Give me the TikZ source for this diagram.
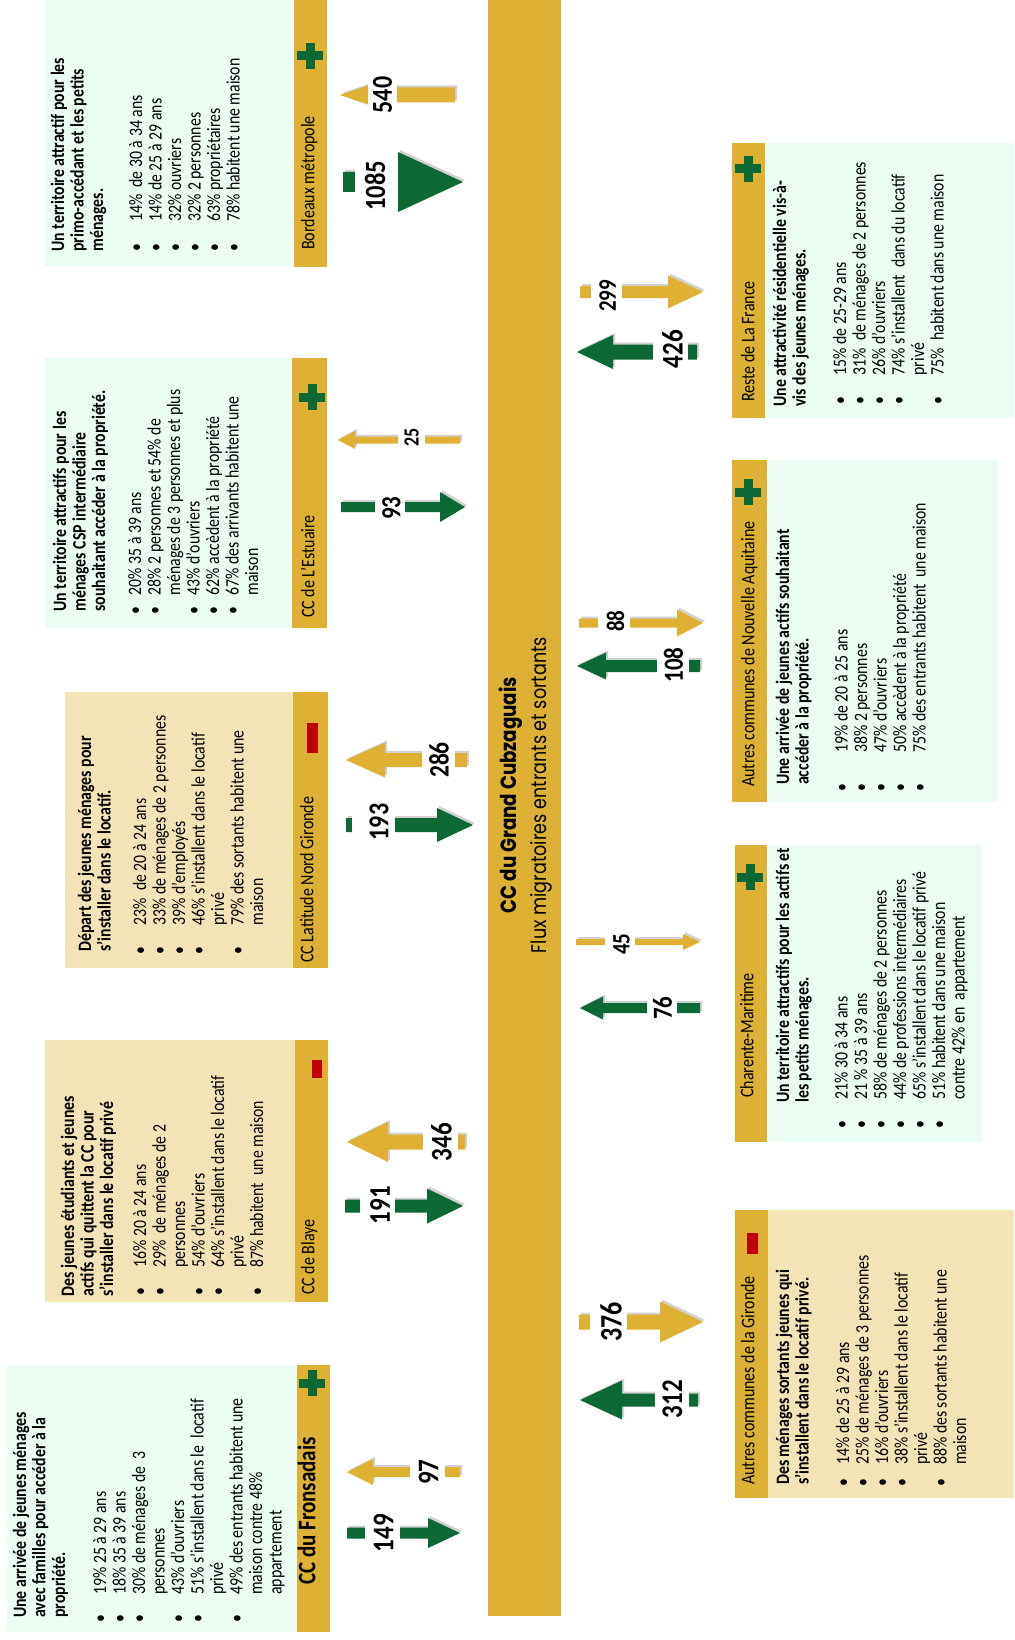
\documentclass[tikz,border=0pt]{standalone}
\usepackage{fontspec}
\setmainfont{Carlito}
\newfontfamily\poppins{Poppins}
\usetikzlibrary{shadows}
\definecolor{gold}{RGB}{222,176,52}
\definecolor{dgreen}{RGB}{12,104,52}
\definecolor{lgreen}{RGB}{235,252,242}
\definecolor{beige}{RGB}{243,228,181}
\definecolor{mred}{RGB}{192,0,0}

\newcommand\bodytext[1]{\scalebox{1}[1.2]{\parbox[t]{400pt}{\raggedright\fontsize{15.8}{16.25}\selectfont #1}}}
\newcommand\bi[2]{\makebox[#1pt][l]{\textbullet}#2}
\newcommand\ci[2]{\hspace*{#1pt}#2}
\newcommand\rectnode[6]{\node[fill=#2, draw=none, inner sep=0pt, outer sep=0pt, minimum width={(#5-#3)*1pt}, minimum height={(#6-#4)*1pt}, anchor=north west] (#1) at (#3,#4) {};}
\newcommand\greenplus[3]{\fill[dgreen] (#2-13,#3-4.5) rectangle (#2+13,#3+4.5); \fill[dgreen] (#2-4.5,#3-13) rectangle (#2+4.5,#3+13); \coordinate (#1) at (#2,#3);}
\newcommand\redminus[5]{\fill[mred] (#2-#4/2,#3-#5/2) rectangle (#2+#4/2,#3+#5/2); \coordinate (#1) at (#2,#3);}
\newcommand\barrow[7]{%
  \pgfmathsetmacro\myhb{#3-sign(#3-#2)*#7}%
  \fill[#1,arrowshadow] (#2,#4-#5) -- (\myhb,#4-#5) -- (\myhb,#4-#6) -- (#3,#4) -- (\myhb,#4+#6) -- (\myhb,#4+#5) -- (#2,#4+#5) -- cycle;}
\newcommand\blabel[8]{%
  \fill[white] (#2,#5-#6) rectangle (#3,#5+#6);
  \node[numlbl, font=\fontsize{#8}{#8}\selectfont\bfseries] (#1) at (#4,#5) {\scalebox{1}[1.2]{#7}};}

\tikzset{
  boxtext/.style={rotate=90, anchor=base west, inner sep=0pt},
  lbl/.style={rotate=90, anchor=mid west, inner sep=0pt, font=\fontsize{16}{19}\selectfont},
  numlbl/.style={rotate=90, inner sep=0pt, anchor=center},
  arrowshadow/.style={drop shadow={shadow xshift=2pt, shadow yshift=2pt, fill=black, opacity=0.18}},
}

\begin{document}
\begin{tikzpicture}[x=1pt,y=-1pt]
\useasboundingbox (0,0) rectangle (1014,1640);
\fill[white] (0,0) rectangle (1014,1640);

% ---------- Bordeaux metropole
\rectnode{b1bg}{lgreen}{45}{0}{294}{266}
\rectnode{b1st}{gold}{294}{0}{327}{267}
\node[boxtext] (b1t) at (64,251.7) {\bodytext{\bfseries Un territoire attractif pour les\\primo-accédant et les petits\\ménages.}};
\node[boxtext] (b1l) at (142,251.5) {\bodytext{\bi{29.5}{14\%\ \ de 30 à 34 ans}\\\bi{29.5}{14\% de 25 à 29 ans}\\\bi{29.5}{32\% ouvriers}\\\bi{29.5}{32\% 2 personnes}\\\bi{29.5}{63\% propriétaires}\\\bi{29.5}{78\% habitent une maison}}};
\node[lbl] (b1n) at (312,250) {\scalebox{1}[1.2]{Bordeaux métropole}};
\greenplus{b1p}{310}{56}

% ---------- CC de l'Estuaire
\rectnode{b2bg}{lgreen}{45}{358}{292}{628}
\rectnode{b2st}{gold}{292}{358}{327}{628}
\node[boxtext] (b2t) at (66,611.7) {\bodytext{\bfseries Un territoire attractifs pour les\\ménages CSP intermédiaire\\souhaitant accéder à la propriété.}};
\node[boxtext] (b2l) at (141,615) {\bodytext{\bi{19.5}{20\% 35 à 39 ans}\\\bi{19.5}{28\% 2 personnes et 54\% de}\\\ci{19.5}{ménages de 3 personnes et plus}\\\bi{19.5}{43\% d’ouvriers}\\\bi{19.5}{62\% accèdent à la propriété}\\\bi{19.5}{67\% des arrivants habitent une}\\\ci{19.5}{maison}}};
\node[lbl] (b2n) at (312,618) {\scalebox{1}[1.2]{CC de L’Estuaire}};
\greenplus{b2p}{312}{397}

% ---------- CC Latitude Nord Gironde
\rectnode{b3bg}{beige}{65}{692}{293}{968}
\rectnode{b3st}{gold}{293}{692}{328}{968}
\node[boxtext] (b3t) at (91,951.7) {\bodytext{\bfseries Départ des jeunes ménages pour\\s’installer dans le locatif.}};
\node[boxtext] (b3l) at (146,955) {\bodytext{\bi{29.5}{23\%\ \ de 20 à 24 ans}\\\bi{29.5}{33\% de ménages de 2 personnes}\\\bi{29.5}{39\% d’employés}\\\bi{29.5}{46\% s’installent dans le locatif}\\\ci{29.5}{privé}\\\bi{29.5}{79\% des sortants habitent une}\\\ci{29.5}{maison}}};
\node[lbl] (b3n) at (311,963) {\scalebox{1}[1.2]{CC Latitude Nord Gironde}};
\redminus{b3m}{312}{738}{11}{30}

% ---------- CC de Blaye
\rectnode{b4bg}{beige}{45}{1040}{295}{1302}
\rectnode{b4st}{gold}{295}{1040}{328}{1302}
\node[boxtext] (b4t) at (74,1296.7) {\bodytext{\bfseries Des jeunes étudiants et jeunes\\actifs qui quittent la CC pour\\s’installer dans le locatif privé}};
\node[boxtext] (b4l) at (146,1295.5) {\bodytext{\bi{27.5}{16\% 20 à 24 ans}\\\bi{27.5}{29\%\ \ de ménages de 2}\\\ci{27.5}{personnes}\\\bi{27.5}{54\% d’ouvriers}\\\bi{27.5}{64\% s’installent dans le locatif}\\\ci{27.5}{privé}\\\bi{27.5}{87\% habitent\ \ une maison}}};
\node[lbl] (b4n) at (312,1295) {\scalebox{1}[1.2]{CC de Blaye}};
\redminus{b4m}{317}{1069}{10}{18}

% ---------- CC du Fronsadais
\rectnode{b5bg}{lgreen}{7}{1365}{297}{1632}
\rectnode{b5st}{gold}{297}{1365}{330}{1632}
\node[boxtext] (b5t) at (26,1618) {\bodytext{\bfseries Une arrivée de jeunes ménages\\avec familles pour accéder à la\\propriété.}};
\node[boxtext] (b5l) at (106,1622.5) {\bodytext{\bi{27.5}{19\% 25 à 29 ans}\\\bi{27.5}{18\% 35 à 39 ans}\\\bi{27.5}{30\% de ménages de\ \ 3}\\\ci{27.5}{personnes}\\\bi{27.5}{43\% d’ouvriers}\\\bi{27.5}{51\% s’installent dans le\ \ locatif}\\\ci{27.5}{privé}\\\bi{27.5}{49\% des entrants habitent une}\\\ci{27.5}{maison contre 48\%}\\\ci{27.5}{appartement}}};
\node[lbl, font=\fontsize{21}{24}\selectfont\bfseries] (b5n) at (313,1585) {\scalebox{1}[1.2]{CC du Fronsadais}};
\greenplus{b5p}{312}{1383}

% ---------- Reste de La France
\rectnode{b6st}{gold}{732}{143}{765}{418}
\rectnode{b6bg}{lgreen}{765}{143}{1014}{418}
\node[boxtext] (b6t) at (786,406.7) {\bodytext{\bfseries Une attractivité résidentielle vis-à-\\vis des jeunes ménages.}};
\node[boxtext] (b6l) at (846,405) {\bodytext{\bi{29.5}{15\% de 25-29 ans}\\\bi{29.5}{31\%\ \ de ménages de 2 personnes}\\\bi{29.5}{26\% d’ouvriers}\\\bi{29.5}{74\% s’installent\ \ dans du locatif}\\\ci{29.5}{privé}\\\bi{29.5}{75\%\ \ habitent dans une maison}}};
\node[lbl] (b6n) at (752,402) {\scalebox{1}[1.2]{Reste de La France}};
\greenplus{b6p}{748}{169}

% ---------- Autres communes de Nouvelle Aquitaine
\rectnode{b7st}{gold}{732}{460}{767}{802}
\rectnode{b7bg}{lgreen}{767}{460}{998}{802}
\node[boxtext] (b7t) at (789,785) {\bodytext{\bfseries Une arrivée de jeunes actifs souhaitant\\accéder à la propriété.}};
\node[boxtext] (b7l) at (847.5,791.5) {\bodytext{\bi{38.5}{19\% de 20 à 25 ans}\\\bi{38.5}{38\% 2 personnes}\\\bi{38.5}{47\% d’ouvriers}\\\bi{38.5}{50\% accèdent à la propriété}\\\bi{38.5}{75\% des entrants habitent\ \ une maison}}};
\node[lbl] (b7n) at (752,787) {\scalebox{1}[1.2]{Autres communes de Nouvelle Aquitaine}};
\greenplus{b7p}{748}{492}

% ---------- Charente-Maritime
\rectnode{b8st}{gold}{735}{845}{767}{1142}
\rectnode{b8bg}{lgreen}{767}{845}{982}{1142}
\node[boxtext] (b8t) at (789,1103) {\bodytext{\bfseries Un territoire attractifs pour les actifs et\\les petits ménages.}};
\node[boxtext] (b8l) at (847.5,1128.5) {\bodytext{\bi{28.5}{21\% 30 à 34 ans}\\\bi{28.5}{21 \% 35 à 39 ans}\\\bi{28.5}{58\% de ménages de 2 personnes}\\\bi{28.5}{44\% de professions intermédiaires}\\\bi{28.5}{65\% s’installent dans le locatif privé}\\\bi{28.5}{51\% habitent dans une maison}\\\ci{28.5}{contre 42\% en\ \ appartement}}};
\node[lbl] (b8n) at (751,1098) {\scalebox{1}[1.2]{Charente-Maritime}};
\greenplus{b8p}{750}{877}

% ---------- Autres communes de la Gironde
\rectnode{b9st}{gold}{735}{1210}{768}{1498}
\rectnode{b9bg}{beige}{768}{1210}{1014}{1498}
\node[boxtext] (b9t) at (789,1485) {\bodytext{\bfseries Des ménages sortants jeunes qui\\s’installent dans le locatif privé.}};
\node[boxtext] (b9l) at (849,1486.5) {\bodytext{\bi{21.5}{14\% de 25 à 29 ans}\\\bi{21.5}{25\% de ménages de 3 personnes}\\\bi{21.5}{16\% d’ouvriers}\\\bi{21.5}{38\% s’installent dans le locatif}\\\ci{21.5}{privé}\\\bi{21.5}{88\% des sortants habitent une}\\\ci{21.5}{maison}}};
\node[lbl] (b9n) at (752,1485) {\scalebox{1}[1.2]{Autres communes de la Gironde}};
\redminus{b9m}{752}{1243}{11}{21}

% ---------- central bar
\rectnode{bar}{gold}{488}{0}{561}{1616}
\node[rotate=90, inner sep=0pt] (ttl) at (511,795) {\scalebox{1}[1.2]{\resizebox{236pt}{!}{\poppins\bfseries CC du Grand Cubzaguais}}};
\node[rotate=90, inner sep=0pt] (sub) at (541,795) {\scalebox{1}[1.2]{\resizebox{316pt}{!}{\poppins Flux migratoires entrants et sortants}}};

% ---------- arrows, left side
\barrow{gold}{455}{340}{95}{7.5}{17}{50}
\blabel{n540}{368}{397}{382.5}{95}{19}{540}{24}
\barrow{dgreen}{343}{463}{182}{10}{30}{65}
\blabel{n1085}{355}{398}{375}{186}{26}{1085}{24.5}
\barrow{gold}{460}{338}{440}{3.5}{9}{17}
\blabel{n25}{398}{425}{411.5}{437}{10}{25}{18}
\barrow{dgreen}{341}{465}{507}{5}{15}{25}
\blabel{n93}{375}{405}{391.5}{508}{12.5}{93}{23}
\barrow{gold}{467}{346}{760}{7}{17.5}{39}
\blabel{n286}{422}{455}{439}{760}{18}{286}{23.5}
\barrow{dgreen}{346}{473}{825}{7}{17}{36}
\blabel{n193}{352}{395}{379}{822}{19}{193}{24}
\barrow{gold}{465}{347}{1142}{7.5}{20}{41}
\blabel{n346}{423}{458}{441.5}{1142}{20}{346}{25}
\barrow{dgreen}{345}{463}{1206}{6.5}{17.5}{36}
\blabel{n191}{360}{395}{380}{1205}{19}{191}{25}
\barrow{gold}{460}{347}{1472}{5}{13}{26}
\blabel{n97}{410}{445}{428.5}{1472}{14}{97}{25}
\barrow{dgreen}{347}{460}{1533}{5.5}{15}{32}
\blabel{n149}{365}{400}{383.5}{1533}{20}{149}{25}

% ---------- arrows, right side
\barrow{gold}{580}{703}{292}{6}{16.5}{35}
\blabel{n299}{591}{622}{607.5}{296}{16}{299}{21}
\barrow{dgreen}{697}{577}{352}{7.5}{17}{36}
\blabel{n426}{653}{688}{672.5}{349}{19.5}{426}{25}
\barrow{gold}{579}{703}{623}{4.5}{13.5}{26}
\blabel{n88}{598}{630}{615.5}{621}{11}{88}{21}
\barrow{dgreen}{700}{577}{666}{6}{13.5}{29}
\blabel{n108}{657}{689}{673.5}{665}{18}{108}{23}
\barrow{gold}{576}{700}{942}{3}{8}{17}
\blabel{n45}{605}{635}{621.5}{944}{11}{45}{21}
\barrow{dgreen}{700}{580}{1008}{5}{11.5}{23}
\blabel{n76}{647}{677}{662.5}{1008}{12}{76}{23}
\barrow{gold}{579}{703}{1322}{7.5}{20.5}{43}
\blabel{n376}{590}{627}{611}{1322}{20}{376}{26}
\barrow{dgreen}{698}{580}{1400}{6.5}{19.5}{42}
\blabel{n312}{655}{689}{672.5}{1399}{19.5}{312}{25}
\end{tikzpicture}
\end{document}
